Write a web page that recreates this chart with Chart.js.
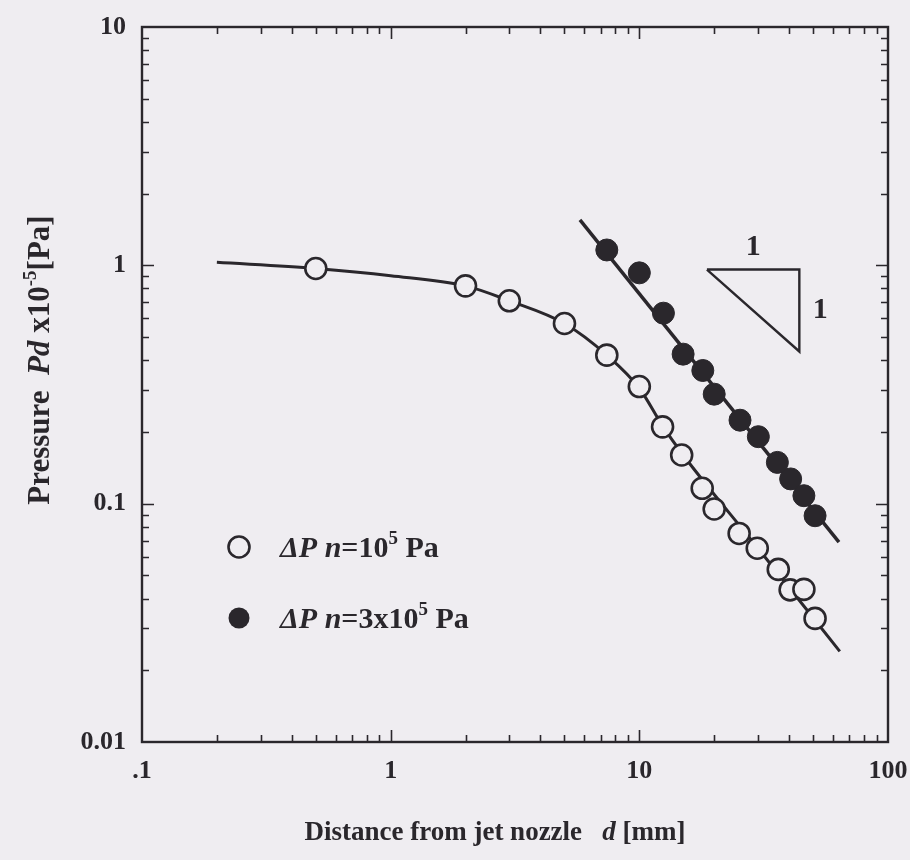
<!DOCTYPE html>
<html lang="en">
<head>
<meta charset="UTF-8">
<title>Pressure vs distance from jet nozzle</title>
<script src="https://cdn.jsdelivr.net/npm/chart.js"></script>
<style>
  html, body { margin: 0; padding: 0; background: #efedf1; }
  canvas { display: block; }
</style>
</head>
<body>
<canvas id="jetChart" width="910" height="860"></canvas>
<script>
// measured points, dPn = 1e5 Pa (open circles)
const openX = [0.5, 2, 3, 5, 7.4, 10, 12.4, 14.8, 17.9, 20, 25.2, 29.8, 36.2, 40.4, 45.9, 50.9];
const openY = [0.97, 0.82, 0.71, 0.57, 0.42, 0.31, 0.21, 0.16, 0.116, 0.095, 0.075, 0.065, 0.053, 0.0435, 0.0437, 0.033];

// measured points, dPn = 3e5 Pa (filled circles)
const fillX = [7.4, 10, 12.5, 15, 18, 20, 25.4, 30.1, 35.9, 40.6, 45.9, 50.9];
const fillY = [1.16, 0.93, 0.63, 0.424, 0.362, 0.288, 0.224, 0.191, 0.149, 0.127, 0.108, 0.089];

// fitted curves as drawn in the figure
const fitOpenX = [0.2, 0.5, 1, 2, 3, 5, 7.4, 10, 12.4, 15, 30, 64];
const fitOpenY = [1.03, 0.97, 0.905, 0.82, 0.71, 0.57, 0.42, 0.305, 0.212, 0.16, 0.065, 0.024];
const fitFillX = [5.77, 63.5];
const fitFillY = [1.55, 0.069];

// 1:1 slope triangle
const triX = [18.7, 44, 44, 18.7];
const triY = [0.96, 0.96, 0.435, 0.96];

// axis ticks
const xTickVals = [0.1, 1, 10, 100];
const xTickLabels = ['.1', '1', '10', '100'];
const yTickVals = [0.01, 0.1, 1, 10];
const yTickLabels = ['0.01', '0.1', '1', '10'];

const INK = '#2a272c';
const BG = '#efedf1';
const SERIF = '"Liberation Serif", "Times New Roman", serif';

const pts = (xs, ys) => xs.map((x, i) => ({ x: x, y: ys[i] }));

// fixed axis box sizes, no extra padding for overhanging labels
function fixBox(w, h) {
  return s => {
    if (w != null) s.width = w;
    if (h != null) s.height = h;
    s.paddingLeft = s.paddingRight = s.paddingTop = s.paddingBottom = 0;
  };
}

function partFont(p, size) {
  const s = p.sup ? Math.round(size * 0.62) : size;
  return (p.it ? 'italic ' : '') + 'bold ' + s + 'px ' + SERIF;
}
function richWidth(ctx, parts, size) {
  let w = 0;
  parts.forEach(p => { ctx.font = partFont(p, size); w += ctx.measureText(p.t).width; });
  return w;
}
function drawRich(ctx, x, y, parts, size) {
  ctx.textAlign = 'left';
  ctx.textBaseline = 'alphabetic';
  parts.forEach(p => {
    ctx.font = partFont(p, size);
    ctx.fillText(p.t, x, p.sup ? y - size * 0.42 : y);
    x += ctx.measureText(p.t).width;
  });
}

// inward ticks on all four sides, frame, titles, legend, triangle labels
const decor = {
  id: 'decor',
  afterDraw(chart) {
    const ctx = chart.ctx;
    const a = chart.chartArea;
    const xs = chart.scales.x, ys = chart.scales.y;
    ctx.save();
    ctx.strokeStyle = INK;
    ctx.fillStyle = INK;

    ctx.lineWidth = 1.6;
    ctx.beginPath();
    for (let e = -1; e <= 1; e++) {
      for (let k = 1; k <= 9; k++) {
        const v = k * Math.pow(10, e);
        if (v <= xs.min || v >= xs.max) continue;
        const px = Math.round(xs.getPixelForValue(v)) + 0.5;
        const len = k === 1 ? 12 : 7;
        ctx.moveTo(px, a.bottom); ctx.lineTo(px, a.bottom - len);
        ctx.moveTo(px, a.top); ctx.lineTo(px, a.top + len);
      }
    }
    for (let e = -2; e <= 0; e++) {
      for (let k = 1; k <= 9; k++) {
        const v = k * Math.pow(10, e);
        if (v <= ys.min || v >= ys.max) continue;
        const py = Math.round(ys.getPixelForValue(v)) + 0.5;
        const len = k === 1 ? 12 : 7;
        ctx.moveTo(a.left, py); ctx.lineTo(a.left + len, py);
        ctx.moveTo(a.right, py); ctx.lineTo(a.right - len, py);
      }
    }
    ctx.stroke();

    ctx.lineWidth = 2.4;
    ctx.strokeRect(a.left, a.top, a.right - a.left, a.bottom - a.top);

    // x title
    const xt = [{ t: 'Distance from jet nozzle   ' }, { t: 'd', it: true }, { t: ' [mm]' }];
    const xw = richWidth(ctx, xt, 27);
    drawRich(ctx, 495 - xw / 2, 840, xt, 27);

    // y title
    const yt = [{ t: 'Pressure  ' }, { t: 'Pd', it: true }, { t: ' x10' }, { t: '-5', sup: true }, { t: '[Pa]' }];
    const yw = richWidth(ctx, yt, 31);
    ctx.save();
    ctx.translate(49, 360);
    ctx.rotate(-Math.PI / 2);
    drawRich(ctx, -yw / 2, 0, yt, 31);
    ctx.restore();

    // legend
    const lg = [
      { y: 547, filled: false, parts: [{ t: '\u0394P', it: true }, { t: ' n', it: true }, { t: '=10' }, { t: '5', sup: true }, { t: ' Pa' }] },
      { y: 618, filled: true, parts: [{ t: '\u0394P', it: true }, { t: ' n', it: true }, { t: '=3x10' }, { t: '5', sup: true }, { t: ' Pa' }] }
    ];
    lg.forEach(item => {
      ctx.beginPath();
      ctx.arc(239, item.y, 10.5, 0, Math.PI * 2);
      ctx.lineWidth = 2.6;
      if (item.filled) { ctx.fillStyle = INK; ctx.fill(); }
      else { ctx.fillStyle = BG; ctx.fill(); ctx.stroke(); }
      ctx.fillStyle = INK;
      drawRich(ctx, 280, item.y + 10, item.parts, 30);
    });

    // slope triangle labels
    ctx.font = 'bold 30px ' + SERIF;
    ctx.textAlign = 'center';
    ctx.textBaseline = 'middle';
    const tx = xs.getPixelForValue(Math.sqrt(triX[0] * triX[1]));
    ctx.fillText('1', tx, ys.getPixelForValue(triY[0]) - 22);
    ctx.fillText('1', xs.getPixelForValue(triX[1]) + 21, ys.getPixelForValue(Math.sqrt(triY[1] * triY[2])));
    ctx.restore();
  }
};

new Chart(document.getElementById('jetChart'), {
  type: 'scatter',
  data: {
    datasets: [
      {
        label: 'dPn=1e5 Pa',
        data: pts(openX, openY),
        pointRadius: 10.5,
        pointBorderWidth: 2.6,
        pointBorderColor: INK,
        pointBackgroundColor: BG,
        order: 1
      },
      {
        label: 'dPn=3e5 Pa',
        data: pts(fillX, fillY),
        pointRadius: 11,
        pointBorderWidth: 1,
        pointBorderColor: INK,
        pointBackgroundColor: INK,
        order: 1
      },
      {
        label: 'fit 1e5',
        data: pts(fitOpenX, fitOpenY),
        showLine: true,
        pointRadius: 0,
        borderColor: INK,
        borderWidth: 3,
        cubicInterpolationMode: 'monotone',
        order: 2
      },
      {
        label: 'fit 3e5',
        data: pts(fitFillX, fitFillY),
        showLine: true,
        pointRadius: 0,
        borderColor: INK,
        borderWidth: 3.5,
        order: 2
      },
      {
        label: 'slope',
        data: pts(triX, triY),
        showLine: true,
        pointRadius: 0,
        borderColor: INK,
        borderWidth: 2.4,
        borderJoinStyle: 'miter',
        order: 2
      }
    ]
  },
  options: {
    responsive: false,
    animation: false,
    layout: { padding: 0, autoPadding: false },
    plugins: { legend: { display: false }, tooltip: { enabled: false } },
    scales: {
      x: {
        type: 'logarithmic',
        position: 'bottom',
        min: 0.1,
        max: 100,
        afterBuildTicks: s => { s.ticks = xTickVals.map(v => ({ value: v })); },
        afterFit: fixBox(null, 118),
        grid: { display: false, drawTicks: false },
        border: { display: false },
        ticks: {
          autoSkip: false,
          maxRotation: 0,
          padding: 14,
          color: INK,
          font: { family: SERIF, size: 26, weight: 'bold' },
          callback: (v, i) => xTickLabels[i]
        }
      },
      y: {
        type: 'logarithmic',
        position: 'left',
        min: 0.01,
        max: 10,
        afterBuildTicks: s => { s.ticks = yTickVals.map(v => ({ value: v })); },
        afterFit: fixBox(142, null),
        grid: { display: false, drawTicks: false },
        border: { display: false },
        ticks: {
          autoSkip: false,
          padding: 16,
          color: INK,
          font: { family: SERIF, size: 26, weight: 'bold' },
          callback: (v, i) => yTickLabels[i]
        }
      },
      x2: {
        type: 'logarithmic',
        position: 'top',
        min: 0.1,
        max: 100,
        afterFit: fixBox(null, 27),
        grid: { display: false, drawTicks: false },
        border: { display: false },
        ticks: { display: false }
      },
      y2: {
        type: 'logarithmic',
        position: 'right',
        min: 0.01,
        max: 10,
        afterFit: fixBox(22, null),
        grid: { display: false, drawTicks: false },
        border: { display: false },
        ticks: { display: false }
      }
    }
  },
  plugins: [decor]
});
</script>
</body>
</html>
